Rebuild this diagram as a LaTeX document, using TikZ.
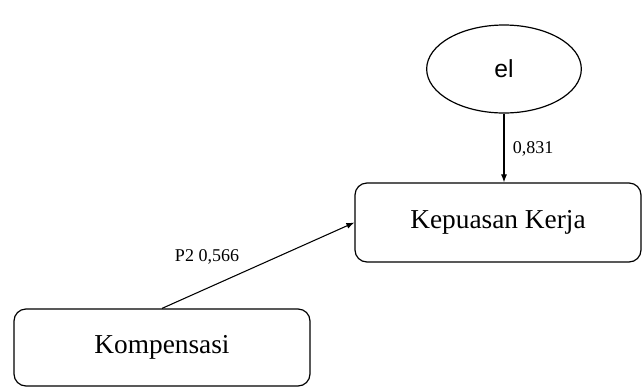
\documentclass[tikz,border=0pt]{standalone}
\usepackage{fontspec}
\setmainfont{Liberation Serif}
\newfontfamily\arialfont{Liberation Sans}
\usetikzlibrary{shapes.geometric,arrows.meta}
\begin{document}
\begin{tikzpicture}[x=0.75pt,y=-0.75pt,
  box/.style={draw, line width=0.9pt, rounded corners=9pt, inner sep=0pt, font=\fontsize{20.5}{24}\selectfont},
  lat/.style={draw, ellipse, line width=0.9pt, inner sep=0pt, minimum width=116pt, minimum height=66pt, font=\arialfont\fontsize{18.5}{22}\selectfont},
  conn/.style={line width=0.8pt, -{Latex[length=6pt,width=4.5pt]}},
  lbl/.style={font=\fontsize{13.5}{16}\selectfont, inner sep=0pt}]
\useasboundingbox (0,0) rectangle (643,387);
\node[lat] (el) at (504,69) {el};
\node[box, minimum width=214.5pt, minimum height=59.25pt] (kk) at (498,222.5) {Kepuasan Kerja};
\node[box, minimum width=222pt, minimum height=57.75pt] (komp) at (162,347.5) {Kompensasi};
\draw[conn] (el.south) -- (el.south |- kk.north);
\draw[conn] (komp.north) -- (kk.west);
\node[lbl] (l1) at (533,149) {0,831};
\node[lbl] (l2) at (207,257) {P2 0,566};
\end{tikzpicture}
\end{document}
